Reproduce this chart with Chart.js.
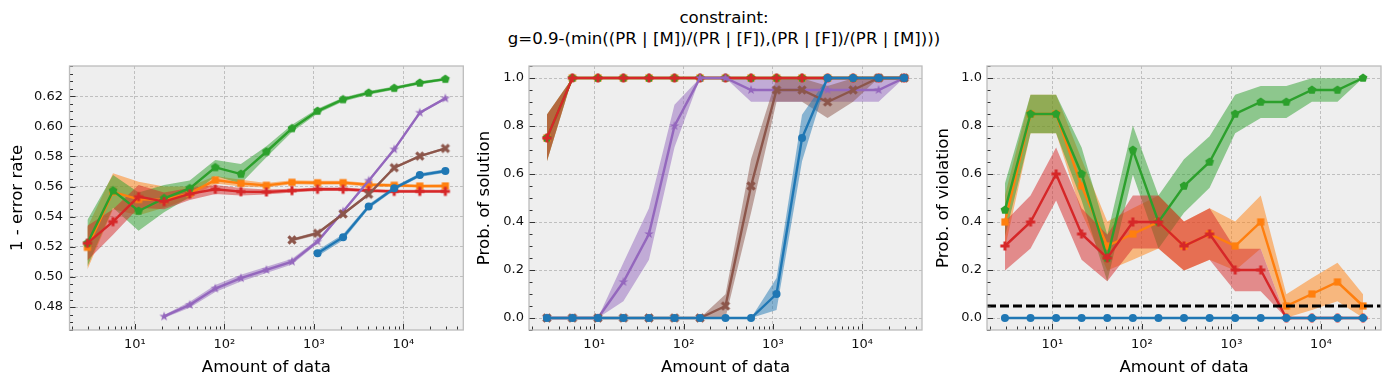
<!DOCTYPE html>
<html>
<head>
<meta charset="utf-8">
<script src="https://cdn.jsdelivr.net/npm/chart.js@4.4.1/dist/chart.umd.min.js"></script>
<style>
  body { margin: 0; background: #ffffff; width: 1390px; height: 387px; overflow: hidden; position: relative; font-family: "DejaVu Sans", sans-serif; }
  #suptitle { position: absolute; left: 474px; width: 500px; top: 7px; text-align: center; font-size: 16.6px; line-height: 21px; color: #000; }
  canvas { position: absolute; top: 60px; }
</style>
</head>
<body>
<div id="suptitle">constraint:<br>g=0.9-(min((PR | [M])/(PR | [F]),(PR | [F])/(PR | [M])))</div>
<canvas id="accuracyChart" width="470" height="327" style="left:0px"></canvas>
<canvas id="solutionChart" width="460" height="327" style="left:470px"></canvas>
<canvas id="violationChart" width="460" height="327" style="left:930px"></canvas>
<script>
// x positions (amount of data), shared by all panels
const amounts = [2.95, 5.70, 11.0, 21.2, 41.0, 79.2, 153, 295, 570, 1100, 2123, 4100, 7915, 15280, 29500];
const xTickValues = [10, 100, 1000, 10000];
const xTickLabels = ['10\u00b9', '10\u00b2', '10\u00b3', '10\u2074'];

// panel 1: 1 - error rate
const accBlue = [null, null, null, null, null, null, null, null, null, 0.5158, 0.5264, 0.5467, 0.5588, 0.5676, 0.5703];
const accBlueLo = [null, null, null, null, null, null, null, null, null, 0.5138, 0.5244, 0.5452, 0.5575, 0.5664, 0.5692];
const accBlueHi = [null, null, null, null, null, null, null, null, null, 0.5178, 0.5284, 0.5482, 0.5601, 0.5688, 0.5714];
const accOrange = [0.5197, 0.5565, 0.5515, 0.5512, 0.5555, 0.5643, 0.5621, 0.5608, 0.5628, 0.5625, 0.5626, 0.5612, 0.5608, 0.5603, 0.5604];
const accOrangeLo = [0.5050, 0.5450, 0.5410, 0.5460, 0.5520, 0.5620, 0.5600, 0.5593, 0.5615, 0.5612, 0.5613, 0.5600, 0.5597, 0.5593, 0.5594];
const accOrangeHi = [0.5330, 0.5688, 0.5632, 0.5600, 0.5600, 0.5670, 0.5645, 0.5623, 0.5641, 0.5638, 0.5639, 0.5624, 0.5619, 0.5613, 0.5614];
const accGreen = [0.5224, 0.5573, 0.5438, 0.5522, 0.5588, 0.5727, 0.5683, 0.5831, 0.5986, 0.6101, 0.6178, 0.6222, 0.6253, 0.6288, 0.6313];
const accGreenLo = [0.5070, 0.5460, 0.5307, 0.5430, 0.5530, 0.5670, 0.5620, 0.5795, 0.5962, 0.6085, 0.6165, 0.6210, 0.6242, 0.6278, 0.6304];
const accGreenHi = [0.5378, 0.5676, 0.5560, 0.5610, 0.5640, 0.5776, 0.5750, 0.5867, 0.6010, 0.6117, 0.6191, 0.6234, 0.6264, 0.6298, 0.6322];
const accRed = [0.5224, 0.5367, 0.5533, 0.5500, 0.5551, 0.5582, 0.5566, 0.5564, 0.5573, 0.5582, 0.5582, 0.5573, 0.5568, 0.5568, 0.5568];
const accRedLo = [0.5110, 0.5280, 0.5460, 0.5450, 0.5510, 0.5550, 0.5540, 0.5548, 0.5560, 0.5570, 0.5571, 0.5562, 0.5557, 0.5558, 0.5558];
const accRedHi = [0.5340, 0.5450, 0.5610, 0.5560, 0.5590, 0.5610, 0.5590, 0.5580, 0.5586, 0.5594, 0.5593, 0.5584, 0.5579, 0.5578, 0.5578];
const accPurple = [null, null, null, 0.4738, 0.4815, 0.4923, 0.4992, 0.5047, 0.5102, 0.5235, 0.5434, 0.5639, 0.5847, 0.6090, 0.6185];
const accPurpleLo = [null, null, null, 0.4728, 0.4795, 0.4900, 0.4970, 0.5027, 0.5083, 0.5222, 0.5424, 0.5630, 0.5838, 0.6082, 0.6178];
const accPurpleHi = [null, null, null, 0.4748, 0.4835, 0.4946, 0.5014, 0.5067, 0.5121, 0.5248, 0.5444, 0.5648, 0.5856, 0.6098, 0.6192];
const accBrown = [null, null, null, null, null, null, null, null, 0.5246, 0.5290, 0.5418, 0.5549, 0.5725, 0.5802, 0.5853];
const accBrownLo = [null, null, null, null, null, null, null, null, 0.5236, 0.5278, 0.5408, 0.5540, 0.5716, 0.5794, 0.5846];
const accBrownHi = [null, null, null, null, null, null, null, null, 0.5256, 0.5302, 0.5428, 0.5558, 0.5734, 0.5810, 0.5860];
const accTicks = [0.48, 0.50, 0.52, 0.54, 0.56, 0.58, 0.60, 0.62];

// panel 2: probability of solution
const solBlue = [0, 0, 0, 0, 0, 0, 0, 0, 0, 0.10, 0.75, 1, 1, 1, 1];
const solBlueLo = [0, 0, 0, 0, 0, 0, 0, 0, 0, 0.033, 0.653, 1, 1, 1, 1];
const solBlueHi = [0, 0, 0, 0, 0, 0, 0, 0, 0, 0.167, 0.847, 1, 1, 1, 1];
const solOrange = [0.75, 1, 1, 1, 1, 1, 1, 1, 1, 1, 1, 1, 1, 1, 1];
const solOrangeLo = [0.653, 1, 1, 1, 1, 1, 1, 1, 1, 1, 1, 1, 1, 1, 1];
const solOrangeHi = [0.847, 1, 1, 1, 1, 1, 1, 1, 1, 1, 1, 1, 1, 1, 1];
const solGreen = [0.75, 1, 1, 1, 1, 1, 1, 1, 1, 1, 1, 1, 1, 1, 1];
const solGreenLo = [0.653, 1, 1, 1, 1, 1, 1, 1, 1, 1, 1, 1, 1, 1, 1];
const solGreenHi = [0.847, 1, 1, 1, 1, 1, 1, 1, 1, 1, 1, 1, 1, 1, 1];
const solRed = [0.75, 1, 1, 1, 1, 1, 1, 1, 1, 1, 1, 1, 1, 1, 1];
const solRedLo = [0.653, 1, 1, 1, 1, 1, 1, 1, 1, 1, 1, 1, 1, 1, 1];
const solRedHi = [0.847, 1, 1, 1, 1, 1, 1, 1, 1, 1, 1, 1, 1, 1, 1];
const solPurple = [0, 0, 0, 0.15, 0.35, 0.80, 1, 1, 0.95, 0.95, 0.95, 0.95, 0.95, 0.95, 1];
const solPurpleLo = [0, 0, 0, 0.070, 0.243, 0.711, 1, 1, 0.901, 0.901, 0.901, 0.901, 0.901, 0.901, 1];
const solPurpleHi = [0, 0, 0, 0.230, 0.457, 0.889, 1, 1, 0.999, 0.999, 0.999, 0.999, 0.999, 0.999, 1];
const solBrown = [0, 0, 0, 0, 0, 0, 0, 0.05, 0.55, 0.95, 0.95, 0.90, 0.95, 1, 1];
const solBrownLo = [0, 0, 0, 0, 0, 0, 0, 0.001, 0.439, 0.901, 0.901, 0.833, 0.901, 1, 1];
const solBrownHi = [0, 0, 0, 0, 0, 0, 0, 0.099, 0.661, 0.999, 0.999, 0.967, 0.999, 1, 1];

// panel 3: probability of violation
const vioBlue = [0, 0, 0, 0, 0, 0, 0, 0, 0, 0, 0, 0, 0, 0, 0];
const vioOrange = [0.40, 0.85, 0.85, 0.55, 0.30, 0.35, 0.40, 0.30, 0.35, 0.30, 0.40, 0.05, 0.10, 0.15, 0.05];
const vioOrangeLo = [0.290, 0.770, 0.770, 0.439, 0.198, 0.243, 0.290, 0.198, 0.243, 0.198, 0.290, 0.001, 0.033, 0.070, 0.001];
const vioOrangeHi = [0.510, 0.930, 0.930, 0.661, 0.402, 0.457, 0.510, 0.402, 0.457, 0.402, 0.510, 0.099, 0.167, 0.230, 0.099];
const vioGreen = [0.45, 0.85, 0.85, 0.60, 0.25, 0.70, 0.40, 0.55, 0.65, 0.85, 0.90, 0.90, 0.95, 0.95, 1.00];
const vioGreenLo = [0.339, 0.770, 0.770, 0.490, 0.153, 0.598, 0.290, 0.439, 0.543, 0.770, 0.833, 0.833, 0.901, 0.901, 1.00];
const vioGreenHi = [0.561, 0.930, 0.930, 0.710, 0.347, 0.802, 0.510, 0.661, 0.757, 0.930, 0.967, 0.967, 0.999, 0.999, 1.00];
const vioRed = [0.30, 0.40, 0.60, 0.35, 0.25, 0.40, 0.40, 0.30, 0.35, 0.20, 0.20, 0, 0, 0, 0];
const vioRedLo = [0.198, 0.290, 0.490, 0.243, 0.153, 0.290, 0.290, 0.198, 0.243, 0.111, 0.111, 0, 0, 0, 0];
const vioRedHi = [0.402, 0.510, 0.710, 0.457, 0.347, 0.510, 0.510, 0.402, 0.457, 0.289, 0.289, 0, 0, 0, 0];
const violationLimit = 0.05;
const probTicks = [0, 0.2, 0.4, 0.6, 0.8, 1.0];

const COLORS = {
  blue: '#1f77b4', orange: '#ff7f0e', green: '#2ca02c',
  red: '#d62728', purple: '#9467bd', brown: '#8c564b'
};
// draw rank: 0 is drawn on top
const RANK = { blue: 0, brown: 1, purple: 2, red: 3, green: 4, orange: 5 };

function withAlpha(hex, a) {
  const n = parseInt(hex.slice(1), 16);
  return `rgba(${(n >> 16) & 255}, ${(n >> 8) & 255}, ${n & 255}, ${a})`;
}

// small marker images, roughly like matplotlib's s / p / P / * / X
function makeMarker(shape, color) {
  const size = 12;
  const c = document.createElement('canvas');
  c.width = size; c.height = size;
  const g = c.getContext('2d');
  g.fillStyle = color;
  g.translate(size / 2, size / 2);
  g.beginPath();
  if (shape === 'square') {
    g.rect(-3.6, -3.6, 7.2, 7.2);
  } else if (shape === 'pentagon') {
    for (let i = 0; i < 5; i++) {
      const a = -Math.PI / 2 + i * 2 * Math.PI / 5;
      g.lineTo(4.6 * Math.cos(a), 4.6 * Math.sin(a));
    }
    g.closePath();
  } else if (shape === 'plus') {
    g.rect(-1.5, -4.6, 3, 9.2);
    g.rect(-4.6, -1.5, 9.2, 3);
  } else if (shape === 'star') {
    for (let i = 0; i < 10; i++) {
      const a = -Math.PI / 2 + i * Math.PI / 5;
      const r = i % 2 === 0 ? 5 : 2;
      g.lineTo(r * Math.cos(a), r * Math.sin(a));
    }
    g.closePath();
  } else if (shape === 'xfill') {
    g.rotate(Math.PI / 4);
    g.rect(-1.6, -5, 3.2, 10);
    g.rect(-5, -1.6, 10, 3.2);
  }
  g.fill();
  return c;
}

const MARKERS = {
  blue: 'circle',
  orange: makeMarker('square', COLORS.orange),
  green: makeMarker('pentagon', COLORS.green),
  red: makeMarker('plus', COLORS.red),
  purple: makeMarker('star', COLORS.purple),
  brown: makeMarker('xfill', COLORS.brown)
};

const points = arr => amounts.map((x, i) => ({ x: x, y: arr[i] }));

function seriesDatasets(key, values, lo, hi) {
  const color = COLORS[key];
  const rank = RANK[key];
  const sets = [];
  if (lo && hi) {
    sets.push({ label: key + '-hi', data: points(hi), borderWidth: 0, pointRadius: 0, pointHitRadius: 0, fill: false, order: 30 + rank });
    sets.push({ label: key + '-lo', data: points(lo), borderWidth: 0, pointRadius: 0, pointHitRadius: 0,
      fill: '-1', backgroundColor: withAlpha(color, 0.5), order: 20 + rank });
  }
  sets.push({
    label: key, data: points(values), borderColor: color, backgroundColor: color,
    borderWidth: 2.4, fill: false, order: rank,
    pointStyle: MARKERS[key], pointRadius: key === 'blue' ? 4 : 4.5, pointBorderWidth: 0
  });
  return sets;
}

// plot background, inward ticks, frame, optional dashed limit line
function axesDecoration(minorStep, limit) {
  return {
    id: 'axesDecoration',
    beforeDraw(chart) {
      const { ctx, chartArea: a } = chart;
      ctx.save();
      ctx.fillStyle = '#eeeeee';
      ctx.fillRect(a.left, a.top, a.right - a.left, a.bottom - a.top);
      ctx.restore();
    },
    afterDatasetsDraw(chart) {
      if (limit === undefined) return;
      const { ctx, chartArea: a, scales: { y } } = chart;
      const py = y.getPixelForValue(limit);
      ctx.save();
      ctx.strokeStyle = '#000000';
      ctx.lineWidth = 2.8;
      ctx.setLineDash([9, 4]);
      ctx.beginPath();
      ctx.moveTo(a.left, py);
      ctx.lineTo(a.right, py);
      ctx.stroke();
      ctx.restore();
    },
    afterDraw(chart) {
      const { ctx, chartArea: a, scales: { x, y } } = chart;
      ctx.save();
      ctx.strokeStyle = '#333333';
      ctx.lineWidth = 1;
      ctx.beginPath();
      // x ticks (log): majors at decades, minors 2..9
      for (let k = Math.floor(Math.log10(x.min)); k <= Math.ceil(Math.log10(x.max)); k++) {
        for (let m = 1; m <= 9; m++) {
          const v = m * Math.pow(10, k);
          if (v < x.min || v > x.max) continue;
          const px = Math.round(x.getPixelForValue(v)) + 0.5;
          ctx.moveTo(px, a.bottom);
          ctx.lineTo(px, a.bottom - (m === 1 ? 6 : 3.5));
        }
      }
      // y ticks
      const nMinor = Math.round((y.max - y.min) / minorStep) + 2;
      const start = Math.ceil(y.min / minorStep) * minorStep;
      for (let i = 0; i < nMinor; i++) {
        const v = start + i * minorStep;
        if (v > y.max) break;
        const isMajor = y.ticks.some(t => Math.abs(t.value - v) < minorStep / 10);
        const py = Math.round(y.getPixelForValue(v)) + 0.5;
        ctx.moveTo(a.left, py);
        ctx.lineTo(a.left + (isMajor ? 6 : 3.5), py);
      }
      ctx.stroke();
      ctx.strokeStyle = '#bcbcbc';
      ctx.lineWidth = 1.3;
      ctx.strokeRect(a.left, a.top, a.right - a.left, a.bottom - a.top);
      ctx.restore();
    }
  };
}

function makeOptions(p) {
  const tickFont = { family: 'DejaVu Sans', size: 13 };
  const titleFont = { family: 'DejaVu Sans', size: 16.6 };
  return {
    responsive: false,
    animation: false,
    devicePixelRatio: 1,
    layout: { padding: { left: 0, right: p.rightPad, top: 6, bottom: 0 } },
    plugins: { legend: { display: false }, tooltip: { enabled: false } },
    scales: {
      x: {
        type: 'logarithmic',
        min: 1.86,
        max: 46800,
        afterBuildTicks: s => { s.ticks = xTickValues.map(v => ({ value: v })); },
        afterFit: s => { s.height = 57; s.paddingLeft = 0; s.paddingRight = 0; },
        ticks: {
          autoSkip: false, maxRotation: 0, padding: 6.5, color: '#111111', font: tickFont,
          callback: v => xTickLabels[xTickValues.indexOf(v)] || ''
        },
        grid: { color: '#b2b2b2', lineWidth: 0.8, drawTicks: false },
        border: { display: false, dash: [3, 2] },
        title: { display: true, text: 'Amount of data', color: '#000000', font: titleFont, padding: { top: 0, bottom: 9 } }
      },
      y: {
        type: 'linear',
        min: p.yMin,
        max: p.yMax,
        afterBuildTicks: s => { s.ticks = p.yTicks.map(v => ({ value: v })); },
        afterFit: s => { s.width = p.yWidth; s.paddingTop = 0; s.paddingBottom = 0; },
        ticks: {
          padding: p.tickPad, color: '#111111', font: tickFont,
          callback: v => v.toFixed(p.decimals)
        },
        grid: { color: '#b2b2b2', lineWidth: 0.8, drawTicks: false },
        border: { display: false, dash: [3, 2] },
        title: { display: true, text: p.yTitle, color: '#000000', font: titleFont, padding: { top: p.titlePad, bottom: 0 } }
      }
    }
  };
}

class ConstraintCharts {
  constructor() {
    this.charts = {};
    this.createAccuracyChart();
    this.createSolutionChart();
    this.createViolationChart();
  }

  createAccuracyChart() {
    const ctx = document.getElementById('accuracyChart').getContext('2d');
    const datasets = [
      ...seriesDatasets('blue', accBlue, accBlueLo, accBlueHi),
      ...seriesDatasets('orange', accOrange, accOrangeLo, accOrangeHi),
      ...seriesDatasets('green', accGreen, accGreenLo, accGreenHi),
      ...seriesDatasets('red', accRed, accRedLo, accRedHi),
      ...seriesDatasets('purple', accPurple, accPurpleLo, accPurpleHi),
      ...seriesDatasets('brown', accBrown, accBrownLo, accBrownHi)
    ];
    this.charts.accuracy = new Chart(ctx, {
      type: 'line',
      data: { datasets },
      options: makeOptions({
        rightPad: 6.7, yMin: 0.4648, yMax: 0.640, yTicks: accTicks, decimals: 2,
        yWidth: 69.5, tickPad: 6.5, yTitle: '1 - error rate', titlePad: 8
      }),
      plugins: [axesDecoration(0.005)]
    });
  }

  createSolutionChart() {
    const ctx = document.getElementById('solutionChart').getContext('2d');
    const datasets = [
      ...seriesDatasets('blue', solBlue, solBlueLo, solBlueHi),
      ...seriesDatasets('orange', solOrange, solOrangeLo, solOrangeHi),
      ...seriesDatasets('green', solGreen, solGreenLo, solGreenHi),
      ...seriesDatasets('red', solRed, solRedLo, solRedHi),
      ...seriesDatasets('purple', solPurple, solPurpleLo, solPurpleHi),
      ...seriesDatasets('brown', solBrown, solBrownLo, solBrownHi)
    ];
    this.charts.solution = new Chart(ctx, {
      type: 'line',
      data: { datasets },
      options: makeOptions({
        rightPad: 8, yMin: -0.05, yMax: 1.05, yTicks: probTicks, decimals: 1,
        yWidth: 59, tickPad: 5, yTitle: 'Prob. of solution', titlePad: 5
      }),
      plugins: [axesDecoration(0.05)]
    });
  }

  createViolationChart() {
    const ctx = document.getElementById('violationChart').getContext('2d');
    const datasets = [
      ...seriesDatasets('blue', vioBlue),
      ...seriesDatasets('orange', vioOrange, vioOrangeLo, vioOrangeHi),
      ...seriesDatasets('green', vioGreen, vioGreenLo, vioGreenHi),
      ...seriesDatasets('red', vioRed, vioRedLo, vioRedHi)
    ];
    this.charts.violation = new Chart(ctx, {
      type: 'line',
      data: { datasets },
      options: makeOptions({
        rightPad: 9, yMin: -0.05, yMax: 1.05, yTicks: probTicks, decimals: 1,
        yWidth: 57, tickPad: 5, yTitle: 'Prob. of violation', titlePad: 3.5
      }),
      plugins: [axesDecoration(0.05, violationLimit)]
    });
  }
}

new ConstraintCharts();
</script>
</body>
</html>
